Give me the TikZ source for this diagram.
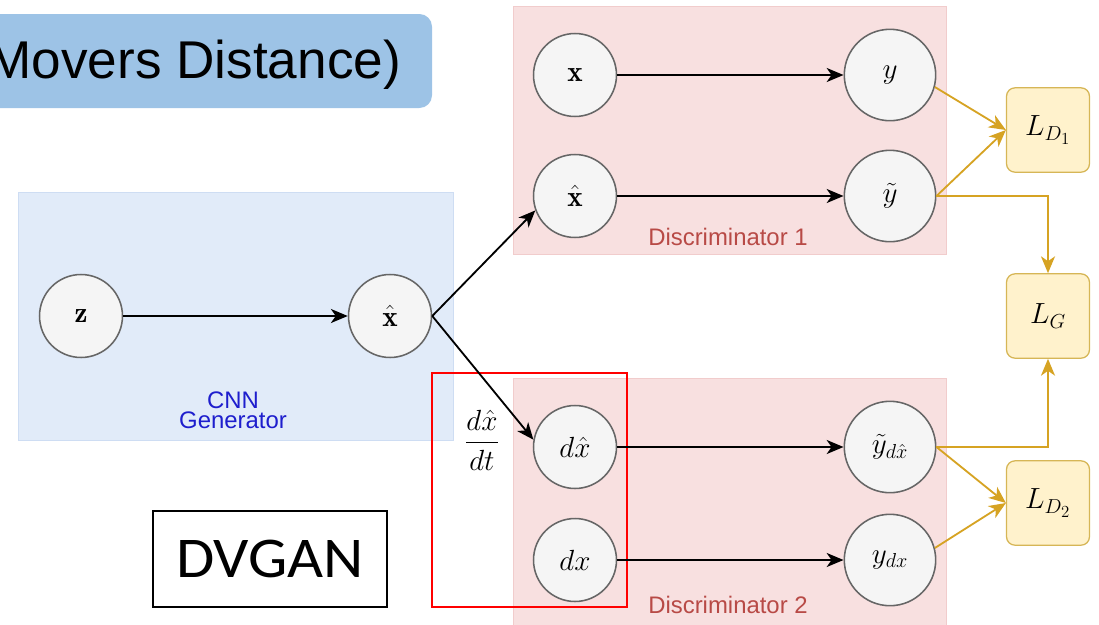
\documentclass[tikz,border=0pt]{standalone}
\usepackage{amsmath,bm}
\usepackage{fontspec}
\setsansfont{Liberation Sans}
\newfontfamily\slidefont{Carlito}
\usepackage{tikz}
\usetikzlibrary{arrows.meta,positioning,backgrounds}

\definecolor{genfill}{RGB}{225,235,249}
\definecolor{gendraw}{RGB}{206,221,243}
\definecolor{discfill}{RGB}{248,224,224}
\definecolor{discdraw}{RGB}{241,204,204}
\definecolor{disctext}{RGB}{184,74,70}
\definecolor{gentext}{RGB}{30,30,205}
\definecolor{lossfill}{RGB}{255,242,204}
\definecolor{lossdraw}{RGB}{214,182,86}
\definecolor{gold}{RGB}{214,163,35}
\definecolor{titlefill}{RGB}{157,195,230}
\definecolor{unitfill}{RGB}{245,245,245}
\definecolor{unitdraw}{RGB}{102,102,102}

\begin{document}
\begin{tikzpicture}
            [x=0.025cm,y=-0.025cm,
            >={Stealth[length=12pt,width=10pt,inset=3.5pt]},
            unit/.style={circle,draw=unitdraw,fill=unitfill,line width=1.1pt,inner sep=0pt,
              minimum size=59pt,font=\fontsize{20.74}{24}\selectfont},
            bigunit/.style={unit,minimum size=65pt},
            loss/.style={rectangle,rounded corners=6pt,draw=lossdraw,fill=lossfill,line width=0.9pt,
              minimum width=59pt,minimum height=60pt,font=\fontsize{20.74}{24}\selectfont},
            flow/.style={->,line width=1.3pt,black},
            lossflow/.style={->,line width=1.3pt,gold},
            boxlabel/.style={font=\sffamily\fontsize{17}{14}\selectfont,align=center}
            ]
            \useasboundingbox (0,0) rectangle (1099,625);

            % title strip, cut by the page edge
            \fill[titlefill,rounded corners=9pt] (-60,14) rectangle (432,108);
            \node[anchor=base east,font=\sffamily\fontsize{37.8}{40}\selectfont] (title) at (406,78) {Movers Distance)};

            % blocks
            \draw[gendraw,fill=genfill] (18,192) rectangle (453,440);
            \draw[discdraw,fill=discfill] (513,6) rectangle (946,254);
            \draw[discdraw,fill=discfill] (513,378) rectangle (946,640);
            \node[boxlabel,text=gentext,anchor=base] (gen) at (233,428) {CNN\\Generator};
            \node[boxlabel,text=disctext,anchor=base] (disc1) at (728,245) {Discriminator 1};
            \node[boxlabel,text=disctext,anchor=base] (disc2) at (728,613) {Discriminator 2};

            \draw[red,line width=1.7pt] (432,373) rectangle (627,607);

            % generator
            \node[unit] (z) at (81,316) {$\mathbf{z}$};
            \node[unit] (xg) at (390,316) {$\hat{\mathbf{x}}$};

            % discriminator 1
            \node[unit] (x) at (575,75) {$\mathbf{x}$};
            \node[unit] (xh) at (575,196) {$\hat{\mathbf{x}}$};
            \node[bigunit] (y) at (890,75) {$y$};
            \node[bigunit] (yt) at (890,196) {$\tilde{y}$};

            % discriminator 2
            \node[unit] (dxh) at (575,447) {$d\hat{x}$};
            \node[unit] (dx) at (575,560) {$dx$};
            \node[bigunit] (ytdx) at (890,447) {$\tilde{y}_{d\hat{x}}$};
            \node[bigunit] (ydx) at (890,560) {$y_{dx}$};

            % losses
            \node[loss] (LD1) at (1048,130) {$L_{D_1}$};
            \node[loss] (LG) at (1048,316) {$L_G$};
            \node[loss] (LD2) at (1048,503) {$L_{D_2}$};

            \node[font=\fontsize{20.74}{24}\selectfont] (rate) at (482,440) {$\dfrac{d\hat{x}}{dt}$};

            \node[draw,line width=1.3pt,inner sep=0pt,minimum width=166pt,minimum height=68pt,
              font=\slidefont\fontsize{41}{44}\selectfont] (dvgan) at (270,559) {\scalebox{1.08}[1]{DVGAN}};

            \draw[flow] (z) -- (xg);
            \draw[flow] (xg.east) -- (xh.200);
            \draw[flow] (xg.east) -- (dxh.170);
            \draw[flow] (x) -- (y);
            \draw[flow] (xh) -- (yt);
            \draw[flow] (dxh) -- (ytdx);
            \draw[flow] (dx) -- (ydx);

            \draw[lossflow] (y.-15) -- (LD1.west);
            \draw[lossflow] (yt.east) -- (LD1.west);
            \draw[lossflow] (yt.east) -| (LG.north);
            \draw[lossflow] (ytdx.east) -| (LG.south);
            \draw[lossflow] (ytdx.east) -- (LD2.west);
            \draw[lossflow] (ydx.15) -- (LD2.west);
          \end{tikzpicture}
\end{document}
